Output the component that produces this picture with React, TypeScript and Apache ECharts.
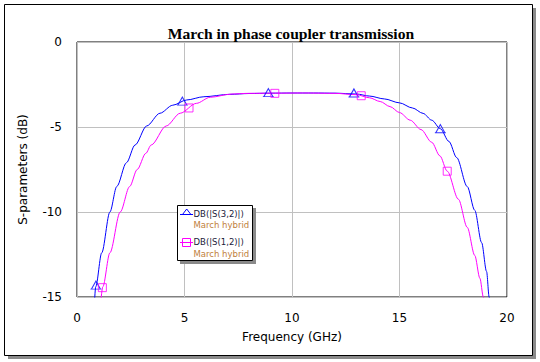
import React, { useEffect, useRef } from "react";
import * as echarts from "echarts";

const chartTitle = "March in phase coupler transmission";
const xAxisName = "Frequency (GHz)";
const yAxisName = "S-parameters (dB)";
const traceNames = ["DB(|S(3,2)|)", "DB(|S(1,2)|)"];
const docName = "March hybrid";

// DB(|S(3,2)|) trace (GHz, dB)
const s32Freq = [0.8, 0.87, 1.15, 1.53, 1.85, 2.3, 2.7, 3.24, 3.86, 4.45, 5.1, 5.9, 7.1, 8.0, 9.0, 10.0, 11.0, 12.0, 13.0, 13.6, 14.3, 15.0, 15.6, 16.1, 16.5, 16.9, 17.3, 17.66, 18.15, 18.5, 18.82, 19.05, 19.17, 19.27];
const s32Db = [-15.6, -14.4, -12.4, -10.0, -8.5, -7.1, -6.06, -4.94, -4.19, -3.72, -3.41, -3.22, -3.08, -3.03, -3.01, -3.0, -3.0, -3.01, -3.06, -3.18, -3.35, -3.58, -3.88, -4.2, -4.6, -5.1, -5.85, -6.8, -8.5, -9.9, -11.8, -13.5, -15.0, -16.0];

// DB(|S(1,2)|) trace (GHz, dB)
const s12Freq = [1.08, 1.2, 1.53, 2.01, 2.45, 2.8, 3.2, 3.45, 4.15, 4.8, 5.55, 6.2, 7.2, 8.0, 9.2, 10.5, 12.0, 13.0, 13.6, 14.1, 14.56, 15.0, 15.5, 16.0, 16.5, 16.88, 17.22, 17.74, 18.15, 18.5, 18.74, 18.9, 19.0];
const s12Db = [-15.6, -14.4, -12.4, -10.0, -8.5, -7.5, -6.55, -6.06, -4.94, -4.19, -3.61, -3.25, -3.06, -3.02, -3.01, -3.0, -3.02, -3.1, -3.28, -3.5, -3.8, -4.15, -4.6, -5.15, -5.9, -6.7, -7.6, -9.25, -10.9, -12.55, -13.9, -15.0, -15.9];

// trace markers
const s32MarkFreq = [0.88, 4.9, 8.9, 12.88, 16.9];
const s32MarkDb = [-14.3, -3.48, -2.98, -3.0, -5.1];
const s12MarkFreq = [1.18, 5.21, 9.2, 13.22, 17.22];
const s12MarkDb = [-14.45, -3.88, -3.02, -3.16, -7.6];

const BLUE = "#0000ff";
const MAGENTA = "#ff00ff";
const SANS = "DejaVu Sans";

const pairs = (xs: number[], ys: number[]) => xs.map((x, i) => [x, ys[i]]);

export default function App() {
  const ref = useRef<HTMLDivElement>(null);

  useEffect(() => {
    if (!ref.current) return;
    const chart = echarts.init(ref.current, undefined, { renderer: "svg" });
    const triPath = "path://M1,8L5.5,0L10,8ZM0,8L11,8";
    const legendZ = 50;
    const legendFont = 8.5;
    chart.setOption({
      animation: false,
      backgroundColor: "#ffffff",
      title: {
        text: chartTitle,
        left: 286,
        top: 20,
        textAlign: "center",
        textStyle: {
          fontFamily: "Liberation Serif",
          fontWeight: "bold",
          fontSize: 15.6,
          color: "#000000",
        },
      },
      grid: {
        left: 77,
        top: 42,
        width: 430,
        height: 255,
        show: true,
        borderColor: "#000000",
        borderWidth: 1,
      },
      xAxis: {
        type: "value",
        min: 0,
        max: 20,
        interval: 5,
        name: xAxisName,
        nameLocation: "middle",
        nameGap: 34,
        nameTextStyle: { fontFamily: SANS, fontSize: 12, color: "#000" },
        axisLine: { show: false },
        axisTick: { show: false },
        axisLabel: { margin: 15, fontFamily: SANS, fontSize: 12, color: "#000" },
        splitLine: { show: true, lineStyle: { color: "#c0c0c0", width: 1 } },
      },
      yAxis: {
        type: "value",
        min: -15,
        max: 0,
        interval: 5,
        name: yAxisName,
        nameLocation: "middle",
        nameGap: 48,
        nameTextStyle: { fontFamily: SANS, fontSize: 12, color: "#000" },
        axisLine: { show: false },
        axisTick: { show: false },
        axisLabel: { margin: 15, fontFamily: SANS, fontSize: 12, color: "#000" },
        splitLine: { show: true, lineStyle: { color: "#c0c0c0", width: 1 } },
      },
      series: [
        {
          name: traceNames[0],
          type: "line",
          data: pairs(s32Freq, s32Db),
          showSymbol: false,
          smooth: 0.3,
          smoothMonotone: "x",
          clip: true,
          lineStyle: { color: BLUE, width: 1 },
          z: 4,
        },
        {
          name: traceNames[1],
          type: "line",
          data: pairs(s12Freq, s12Db),
          showSymbol: false,
          smooth: 0.3,
          smoothMonotone: "x",
          clip: true,
          lineStyle: { color: MAGENTA, width: 1 },
          z: 4,
        },
        {
          type: "scatter",
          data: pairs(s32MarkFreq, s32MarkDb),
          symbol: triPath,
          symbolSize: [11, 8],
          itemStyle: { color: "rgba(255,255,255,0)", borderColor: BLUE, borderWidth: 1 },
          z: 5,
        },
        {
          type: "scatter",
          data: pairs(s12MarkFreq, s12MarkDb),
          symbol: "rect",
          symbolSize: 8,
          itemStyle: { color: "rgba(255,255,255,0)", borderColor: MAGENTA, borderWidth: 1 },
          z: 5,
        },
      ],
      graphic: [
        {
          type: "rect",
          z: -10,
          shape: { x: 8, y: 8, width: 528, height: 351 },
          style: { fill: "#8a8a8a" },
        },
        {
          type: "rect",
          z: -9,
          shape: { x: 4.5, y: 4.5, width: 528, height: 351 },
          style: { fill: "#ffffff", stroke: "#000000", lineWidth: 1 },
        },
        {
          type: "group",
          x: 177,
          y: 205,
          children: [
            { type: "rect", z: legendZ, shape: { x: 3, y: 3, width: 76, height: 56 }, style: { fill: "#8a8a8a" } },
            { type: "rect", z: legendZ + 1, shape: { x: 0.5, y: 0.5, width: 75, height: 55 }, style: { fill: "#ffffff", stroke: "#000000", lineWidth: 1 } },
            { type: "line", z: legendZ + 2, shape: { x1: 3, y1: 9.5, x2: 16, y2: 9.5 }, style: { stroke: BLUE, lineWidth: 1 } },
            { type: "polygon", z: legendZ + 2, shape: { points: [[9.7, 4], [5.5, 9.5], [13.9, 9.5]] }, style: { fill: "none", stroke: BLUE, lineWidth: 1 } },
            { type: "text", z: legendZ + 2, x: 16.5, y: 8.5, style: { text: traceNames[0], fontFamily: SANS, fontSize: legendFont, fill: "#1a1a3a", verticalAlign: "middle", align: "left" } },
            { type: "text", z: legendZ + 2, x: 16.5, y: 20, style: { text: docName, fontFamily: SANS, fontSize: legendFont, fill: "#c0803c", verticalAlign: "middle", align: "left" } },
            { type: "line", z: legendZ + 2, shape: { x1: 3, y1: 37.5, x2: 16, y2: 37.5 }, style: { stroke: MAGENTA, lineWidth: 1 } },
            { type: "rect", z: legendZ + 2, shape: { x: 5.5, y: 33.5, width: 8, height: 8 }, style: { fill: "none", stroke: MAGENTA, lineWidth: 1 } },
            { type: "text", z: legendZ + 2, x: 16.5, y: 37, style: { text: traceNames[1], fontFamily: SANS, fontSize: legendFont, fill: "#1a1a3a", verticalAlign: "middle", align: "left" } },
            { type: "text", z: legendZ + 2, x: 16.5, y: 48.5, style: { text: docName, fontFamily: SANS, fontSize: legendFont, fill: "#c0803c", verticalAlign: "middle", align: "left" } },
          ],
        },
      ],
    });
    return () => chart.dispose();
  }, []);

  return (
    <div
      ref={ref}
      style={{ position: "fixed", left: 0, top: 0, width: 540, height: 362, background: "#ffffff" }}
    />
  );
}
